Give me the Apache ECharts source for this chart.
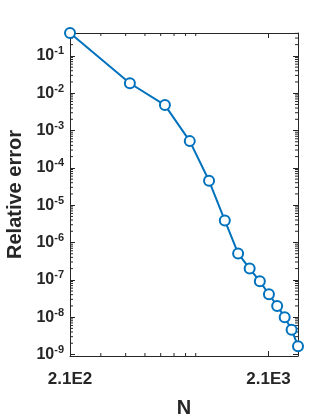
<!DOCTYPE html>
<html><head><meta charset="utf-8">
<script src="https://cdn.jsdelivr.net/npm/echarts@6/dist/echarts.min.js"></script>
<style>html,body{margin:0;padding:0;background:#fff}#c{width:332px;height:416px}</style>
</head><body><div id="c"></div>
<script>
const nValues = [210, 420, 630, 840, 1050, 1260, 1470, 1680, 1890, 2100, 2310, 2520, 2730, 2940];
const relErr = [0.41, 0.0185, 4.8e-3, 5.2e-4, 4.5e-5, 3.9e-6, 5.1e-7, 2.0e-7, 9.1e-8, 4.1e-8, 2.0e-8, 1.0e-8, 4.6e-9, 1.67e-9];
const xTickValues = [210, 2100];
const xTickLabels = ['2.1E2', '2.1E3'];
const yExponents = [-9, -8, -7, -6, -5, -4, -3, -2, -1];
const xMinorTicks = [300, 400, 500, 600, 700, 800, 900];

const X_MIN = 210, X_MAX = 2940, Y_MIN = 9.1e-10, Y_MAX = 0.41;
const axisColor = '#262626';
const fontFam = '"Liberation Sans", Arial, Helvetica, sans-serif';

// y minor ticks at k * 10^e (log-axis decoration)
const yMinorTicks = [];
for (let e = -10; e <= 0; e++) {
  for (let k = 2; k <= 9; k++) {
    const v = k * Math.pow(10, e);
    if (v > Y_MIN && v < Y_MAX) yMinorTicks.push(v);
  }
}

function xFmt(v) {
  for (let i = 0; i < xTickValues.length; i++) {
    if (Math.abs(v / xTickValues[i] - 1) < 0.01) return xTickLabels[i];
  }
  return '';
}
function yFmt(v) {
  const l = Math.log10(v);
  const e = Math.round(l);
  if (Math.abs(l - e) < 1e-6 && yExponents.indexOf(e) >= 0) return '{b|10}{e|' + e + '}';
  return '';
}

const chart = echarts.init(document.getElementById('c'), null, {renderer: 'canvas'});
const axLine = {show: true, lineStyle: {color: axisColor, width: 1}};
const majTick = {show: true, inside: true, length: 5, lineStyle: {color: axisColor}};
const minorLen = 3;

chart.setOption({
  animation: false,
  grid: {left: 70, top: 33, right: 34, bottom: 60, containLabel: false, outerBoundsMode: 'none'},
  xAxis: [{
    type: 'log', logBase: 10, min: X_MIN, max: X_MAX, interval: 1,
    position: 'bottom',
    name: 'N', nameLocation: 'middle', nameGap: 42,
    nameTextStyle: {fontFamily: fontFam, fontWeight: 'bold', fontSize: 20, color: axisColor},
    axisLine: axLine, splitLine: {show: false},
    axisTick: majTick,
    axisLabel: {formatter: xFmt, fontFamily: fontFam, fontWeight: 'bold', fontSize: 17, color: axisColor, margin: 15}
  }, {
    type: 'log', logBase: 10, min: X_MIN, max: X_MAX, interval: 1,
    position: 'top',
    axisLine: axLine, splitLine: {show: false},
    axisTick: majTick,
    axisLabel: {show: false}
  }],
  yAxis: [{
    type: 'log', logBase: 10, min: Y_MIN, max: Y_MAX,
    position: 'left',
    name: 'Relative error', nameLocation: 'middle', nameGap: 40,
    nameTextStyle: {fontFamily: fontFam, fontWeight: 'bold', fontSize: 20, color: axisColor},
    axisLine: axLine, splitLine: {show: false},
    axisTick: majTick,
    axisLabel: {formatter: yFmt, margin: 6, color: axisColor,
      rich: {
        b: {fontFamily: fontFam, fontWeight: 'bold', fontSize: 16, color: axisColor},
        e: {fontFamily: fontFam, fontWeight: 'bold', fontSize: 11, color: axisColor, verticalAlign: 'bottom', padding: [0, 0, 9, 0]}
      }}
  }, {
    type: 'log', logBase: 10, min: Y_MIN, max: Y_MAX,
    position: 'right',
    axisLine: axLine, splitLine: {show: false},
    axisTick: majTick,
    axisLabel: {show: false}
  }],
  series: [{
    type: 'custom', silent: true, clip: false, z: 1,
    xAxisIndex: 0, yAxisIndex: 0,
    data: yMinorTicks.map(v => [X_MIN, v]),
    renderItem: function (params, api) {
      const v = api.value(1);
      const pl = api.coord([X_MIN, v]);
      const pr = api.coord([X_MAX, v]);
      return {type: 'group', children: [
        {type: 'line', shape: {x1: pl[0], y1: pl[1], x2: pl[0] + minorLen, y2: pl[1]}, style: {stroke: axisColor, lineWidth: 1}},
        {type: 'line', shape: {x1: pr[0], y1: pr[1], x2: pr[0] - minorLen, y2: pr[1]}, style: {stroke: axisColor, lineWidth: 1}}
      ]};
    }
  }, {
    type: 'custom', silent: true, clip: false, z: 1,
    xAxisIndex: 0, yAxisIndex: 0,
    data: xMinorTicks.map(v => [v, Y_MIN]),
    renderItem: function (params, api) {
      const v = api.value(0);
      const pb = api.coord([v, Y_MIN]);
      const pt = api.coord([v, Y_MAX]);
      return {type: 'group', children: [
        {type: 'line', shape: {x1: pb[0], y1: pb[1], x2: pb[0], y2: pb[1] - minorLen}, style: {stroke: axisColor, lineWidth: 1}},
        {type: 'line', shape: {x1: pt[0], y1: pt[1], x2: pt[0], y2: pt[1] + minorLen}, style: {stroke: axisColor, lineWidth: 1}}
      ]};
    }
  }, {
    type: 'line', z: 3,
    xAxisIndex: 0, yAxisIndex: 0,
    data: nValues.map((n, i) => [n, relErr[i]]),
    clip: false,
    symbol: 'emptyCircle', symbolSize: 10,
    lineStyle: {color: '#0072BD', width: 2},
    itemStyle: {color: '#0072BD', borderColor: '#0072BD', borderWidth: 2}
  }]
});
</script>
</body></html>
